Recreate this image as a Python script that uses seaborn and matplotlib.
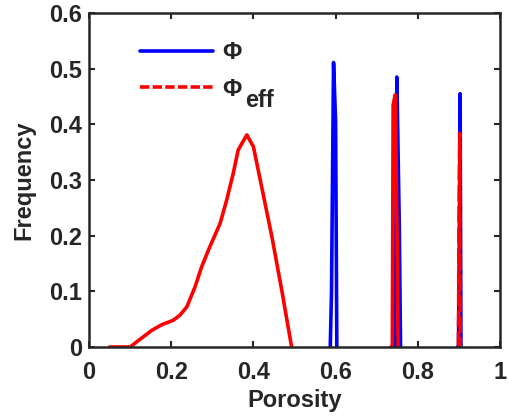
import matplotlib
matplotlib.use("Agg")
import matplotlib.pyplot as plt
import seaborn as sns
from matplotlib.ticker import FuncFormatter
from matplotlib.lines import Line2D

# ---- data ----
phi_eff_curve_x = [0.05, 0.10, 0.128, 0.153, 0.177, 0.205, 0.221, 0.238, 0.258, 0.274,
                   0.294, 0.319, 0.335, 0.351, 0.363, 0.384, 0.40, 0.42, 0.445, 0.469, 0.493]
phi_eff_curve_y = [0.0, 0.0, 0.016, 0.030, 0.040, 0.048, 0.057, 0.072, 0.108, 0.144,
                   0.180, 0.222, 0.264, 0.312, 0.354, 0.381, 0.360, 0.288, 0.198, 0.102, 0.0]

phi_eff_peak2_x = [0.735, 0.738, 0.740, 0.745, 0.750, 0.752]
phi_eff_peak2_y = [0.0, 0.0, 0.435, 0.453, 0.174, 0.0]

phi_eff_peak3_x = [0.897, 0.899, 0.900, 0.902, 0.903]
phi_eff_peak3_y = [0.0, 0.0, 0.186, 0.384, 0.0]

phi_peak1_x = [0.587, 0.590, 0.595, 0.600, 0.603]
phi_peak1_y = [0.0, 0.097, 0.511, 0.405, 0.0]

phi_peak2_x = [0.745, 0.749, 0.755, 0.758]
phi_peak2_y = [0.0, 0.485, 0.216, 0.0]

phi_peak3_x = [0.897, 0.899, 0.901, 0.903, 0.905]
phi_peak3_y = [0.0, 0.0, 0.186, 0.455, 0.0]

x_ticks = [0, 0.2, 0.4, 0.6, 0.8, 1.0]
y_ticks = [0, 0.1, 0.2, 0.3, 0.4, 0.5, 0.6]
legend_labels = ['Φ', 'Φ']
legend_subscripts = ['', 'eff']

sns.set_style("ticks")
plt.rcParams['font.family'] = ['Liberation Sans', 'DejaVu Sans']
plt.rcParams['font.weight'] = 'bold'

FS = 17

fig = plt.figure(figsize=(5.08, 4.17), dpi=100)
ax = fig.add_axes([89/508, 1-347/417, (500-89)/508, (347-13)/417])

lw = 2.6
blue = '#0000ff'
red = '#ff0000'

for xs, ys in [(phi_peak1_x, phi_peak1_y), (phi_peak2_x, phi_peak2_y), (phi_peak3_x, phi_peak3_y)]:
    sns.lineplot(x=xs, y=ys, ax=ax, color=blue, lw=lw, sort=False, estimator=None, zorder=2)

sns.lineplot(x=phi_eff_curve_x, y=phi_eff_curve_y, ax=ax, color=red, lw=lw, sort=False,
             estimator=None, zorder=3)
sns.lineplot(x=phi_eff_peak2_x, y=phi_eff_peak2_y, ax=ax, color=red, lw=lw, sort=False,
             estimator=None, zorder=3)
sns.lineplot(x=phi_eff_peak3_x, y=phi_eff_peak3_y, ax=ax, color=red, lw=lw, sort=False,
             estimator=None, zorder=3)
ax.lines[-1].set_dashes((4.5, 1.3))

ax.set_xlim(0, 1)
ax.set_ylim(0, 0.6)
ax.set_xticks(x_ticks)
ax.set_yticks(y_ticks)
fmt = FuncFormatter(lambda v, p: ('%g' % round(v, 2)))
ax.xaxis.set_major_formatter(fmt)
ax.yaxis.set_major_formatter(fmt)
ax.tick_params(direction='in', top=True, right=True, length=4, width=1.5,
               labelsize=FS)
ax.tick_params(axis='x', pad=10)
ax.tick_params(axis='y', pad=5)
for lab in ax.get_xticklabels() + ax.get_yticklabels():
    lab.set_fontweight('bold')
for s in ax.spines.values():
    s.set_visible(True)
    s.set_linewidth(1.8)
    s.set_zorder(5)

ax.set_xlabel('Porosity', fontsize=FS, fontweight='bold', labelpad=4)
ax.set_ylabel('Frequency', fontsize=FS, fontweight='bold', labelpad=10)

h1 = Line2D([], [], color=blue, lw=lw)
h2 = Line2D([], [], color=red, lw=lw, dashes=(2.6, 0.9))
leg = ax.legend([h1, h2], legend_labels, loc='upper left',
                bbox_to_anchor=((140-89)/411, (347-41)/334), frameon=False,
                handlelength=3.1, handletextpad=0.4, labelspacing=0.58,
                borderaxespad=0, borderpad=0,
                prop={'size': FS, 'weight': 'bold'})

fig.canvas.draw()
r = fig.canvas.get_renderer()
t2 = leg.get_texts()[1]
bb = t2.get_window_extent(r)
fig.text(bb.x1 + 3, bb.y0 - 11, legend_subscripts[1], fontsize=FS, fontweight='bold',
         ha='left', va='bottom', transform=None)

fig.savefig('out.png', dpi=100)
